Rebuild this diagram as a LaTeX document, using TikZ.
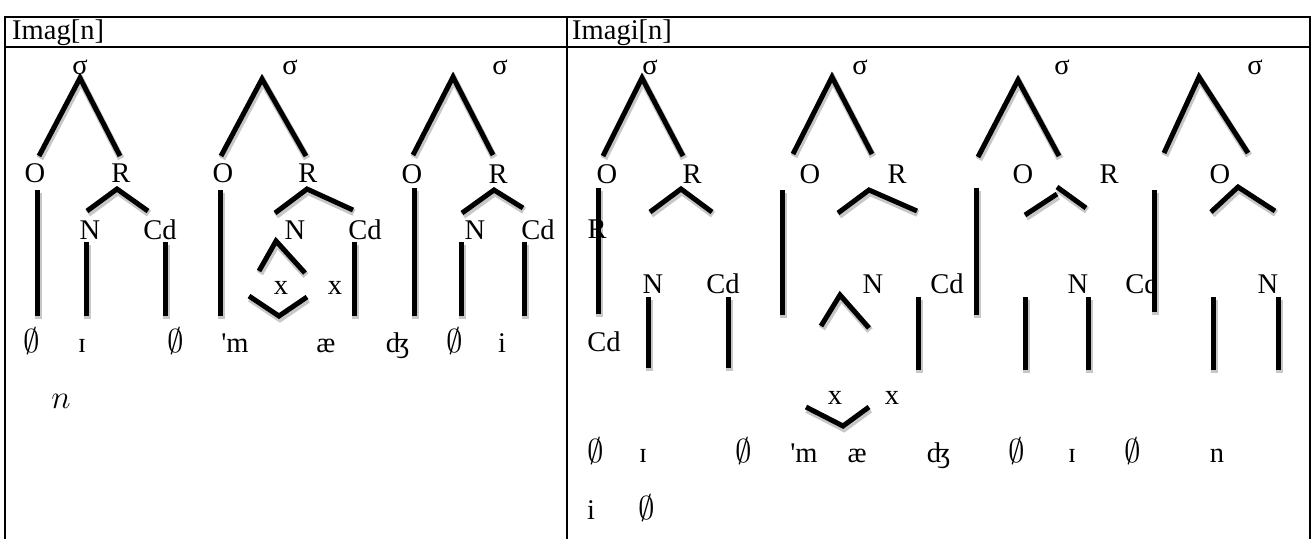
\documentclass[tikz,border=0pt]{standalone}
\usepackage{fix-cm}
\usepackage{fontspec}
\setmainfont{Liberation Serif}
\newfontfamily\tnr{Liberation Serif}
\newcommand{\nul}{{\fontsize{33}{33}\selectfont$\emptyset$}}
\newcommand{\itn}{{\fontsize{33}{33}\selectfont$n$}}
\begin{document}
\begin{tikzpicture}[x=1pt,y=-1pt,
  lab/.style={inner sep=0pt,font=\fontsize{28.5}{30}\selectfont},
  seg/.style={inner sep=0pt,anchor=base,font=\fontsize{28.5}{30}\selectfont},
  br/.style={line width=5pt,line cap=butt,
     preaction={draw=black!22,line width=7pt,transform canvas={xshift=1pt,yshift=-2.5pt}}},
  rule/.style={line width=2pt}]
\useasboundingbox (0,0) rectangle (1314,539);
% table
\draw[rule] (5,539) -- (5,17) -- (1310,17) -- (1310,539);
\draw[rule] (5,47) -- (1310,47);
\draw[rule] (567,17) -- (567,539);
\node[seg,anchor=base west] (h1) at (12,39) {Imag[n]};
\node[seg,anchor=base west] (h2) at (572,39) {Imagi[n]};
% ---------- left panel ----------
% tree 1
\node[lab] (s1) at (80,67) {σ};
\draw[br] (39,156) -- (80,78) -- (120,156);
\node[lab] (o1) at (35,173) {O};
\node[lab] (r1) at (121,173) {R};
\draw[br] (87,211) -- (117,189) -- (148,211);
\node[lab] (n1) at (90,230) {N};
\node[lab] (c1) at (160,230) {Cd};
\draw[br] (37,190) -- (37,316);
\draw[br] (86,242) -- (86,316);
\draw[br] (165,242) -- (165,316);
% tree 2
\node[lab] (s2) at (290,67) {σ};
\draw[br] (221,156) -- (262,79) -- (306,156);
\node[lab] (o2) at (223,173) {O};
\node[lab] (r2) at (308,173) {R};
\draw[br] (275,213) -- (307,189) -- (353,210);
\node[lab] (n2) at (295,230) {N};
\node[lab] (c2) at (365,230) {Cd};
\draw[br] (220,190) -- (220,316);
\draw[br] (354,242) -- (354,316);
\draw[br] (259,271) -- (276,241) -- (305,273);
\node[lab] (x1) at (281,288) {x};
\node[lab] (x2) at (335,288) {x};
\draw[br] (249,296) -- (279,316) -- (307,297);
% tree 3
\node[lab] (s3) at (500,67) {σ};
\draw[br] (413,155) -- (453,77) -- (493,155);
\node[lab] (o3) at (412,174) {O};
\node[lab] (r3) at (498,174) {R};
\draw[br] (462,213) -- (494,190) -- (523,208);
\node[lab] (n3) at (475,230) {N};
\node[lab] (c3) at (538,230) {Cd};
\draw[br] (414,188) -- (414,316);
\draw[br] (461,242) -- (461,316);
\draw[br] (524,242) -- (524,316);
% segments
\node[seg] (a1) at (32,352) {\nul};
\node[seg] (a2) at (82,352) {ɪ};
\node[seg] (a3) at (176,352) {\nul};
\node[seg] (a4) at (235,352) {\tnr 'm};
\node[seg] (a5) at (326,352) {æ};
\node[seg] (a6) at (398,352) {ʤ};
\node[seg] (a7) at (455,352) {\nul};
\node[seg] (a8) at (502,352) {i};
\node[seg] (a9) at (61,408) {\itn};
% ---------- right panel ----------
% tree 1
\node[lab] (t1) at (650,67) {σ};
\draw[br] (603,156) -- (642,78) -- (683,156);
\node[lab] (p1) at (607,174) {O};
\node[lab] (q1) at (692,174) {R};
\draw[br] (598,188) -- (598,314);
\node[lab] (q1b) at (597,229) {R};
\draw[br] (650,212) -- (681,189) -- (712,212);
\node[lab] (m1) at (653,284) {N};
\node[lab] (d1) at (723,284) {Cd};
\draw[br] (648,297) -- (648,368);
\draw[br] (728,297) -- (728,368);
\node[lab] (d1b) at (604,342) {Cd};
% tree 2
\node[lab] (t2) at (860,67) {σ};
\draw[br] (793,154) -- (832,77) -- (872,154);
\node[lab] (p2) at (810,174) {O};
\node[lab] (q2) at (897,174) {R};
\draw[br] (782,190) -- (782,315);
\draw[br] (838,213) -- (869,190) -- (917,211);
\node[lab] (m2) at (873,284) {N};
\node[lab] (d2) at (947,284) {Cd};
\draw[br] (918,297) -- (918,370);
\draw[br] (821,326) -- (840,295) -- (869,328);
\node[lab] (y1) at (835,398) {x};
\node[lab] (y2) at (892,398) {x};
\draw[br] (806,407) -- (843,426) -- (869,407);
% tree 3
\node[lab] (t3) at (1062,67) {σ};
\draw[br] (978,157) -- (1018,80) -- (1059,156);
\node[lab] (p3) at (1023,174) {O};
\node[lab] (q3) at (1109,174) {R};
\draw[br] (976,188) -- (976,315);
\draw[br] (1025,215) -- (1057,194);
\draw[br] (1057,187) -- (1086,208);
\node[lab] (m3) at (1078,284) {N};
\node[lab] (d3) at (1142,284) {Cd};
\draw[br] (1025,297) -- (1025,370);
\draw[br] (1088,297) -- (1088,370);
% tree 4
\node[lab] (t4) at (1255,67) {σ};
\draw[br] (1164,153) -- (1199,77) -- (1248,153);
\node[lab] (p4) at (1220,174) {O};
\draw[br] (1154,190) -- (1154,312);
\draw[br] (1211,212) -- (1238,187) -- (1275,211);
\node[lab] (m4) at (1268,284) {N};
\draw[br] (1213,297) -- (1213,370);
\draw[br] (1278,297) -- (1278,370);
% segments
\node[seg] (b1) at (596,462) {\nul};
\node[seg] (b2) at (643,462) {ɪ};
\node[seg] (b3) at (744,462) {\nul};
\node[seg] (b4) at (804,462) {\tnr 'm};
\node[seg] (b5) at (857,462) {æ};
\node[seg] (b6) at (939,462) {ʤ};
\node[seg] (b7) at (1017,462) {\nul};
\node[seg] (b8) at (1072,462) {ɪ};
\node[seg] (b9) at (1133,462) {\nul};
\node[seg] (b10) at (1217,462) {n};
\node[seg] (b11) at (591,519) {i};
\node[seg] (b12) at (647,519) {\nul};
\end{tikzpicture}
\end{document}
